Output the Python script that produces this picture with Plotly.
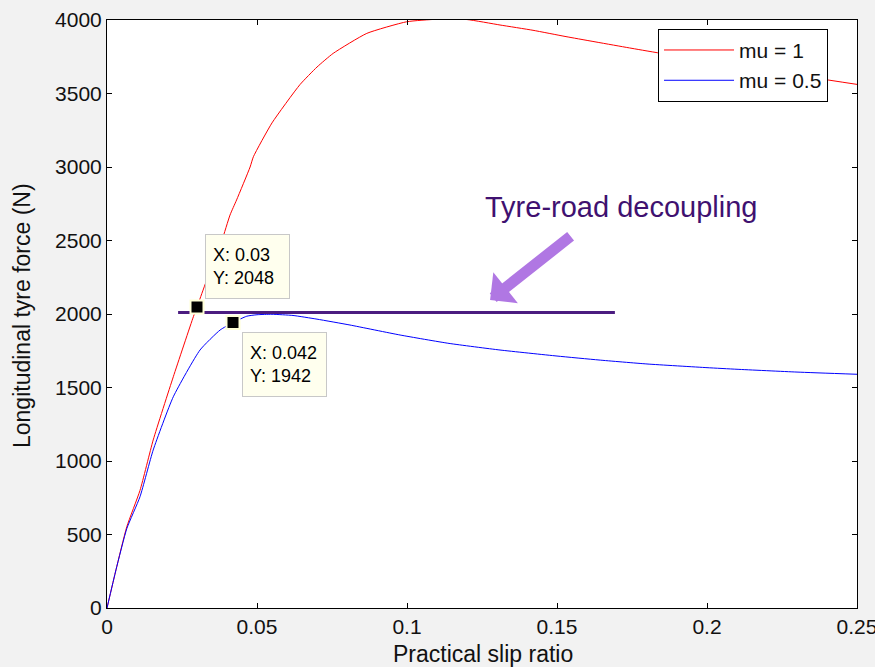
import plotly.graph_objects as go

# ---- data ----
slip_mu1 = [0, 0.003, 0.0066, 0.011, 0.0154, 0.0221, 0.0288, 0.03, 0.035, 0.0383,
            0.041, 0.0432, 0.0477, 0.0488, 0.055, 0.0643, 0.07, 0.0754, 0.0866,
            0.0999, 0.11, 0.12, 0.131, 0.142, 0.153, 0.175, 0.2, 0.225, 0.25]
force_mu1 = [0, 260, 553, 800, 1143, 1573, 1982, 2048, 2330, 2500,
             2673, 2776, 3000, 3070, 3300, 3560, 3680, 3773, 3909,
             3988, 4005, 4003, 3966, 3930, 3887, 3807, 3720, 3640, 3562]

slip_mu05 = [0, 0.003, 0.0066, 0.011, 0.0154, 0.0221, 0.031, 0.0377, 0.042, 0.0466,
             0.05, 0.055, 0.062, 0.07, 0.081, 0.0977, 0.114, 0.131, 0.15, 0.164,
             0.18, 0.2, 0.21, 0.23, 0.25]
force_mu05 = [0, 260, 540, 757, 1075, 1437, 1755, 1891, 1942, 1985,
              1995, 1998, 1990, 1965, 1925, 1857, 1800, 1755, 1714, 1687,
              1660, 1635, 1624, 1605, 1590]

tip_x = [0.03, 0.042]
tip_y = [2048, 1942]

decoupling_x = [0.0237, 0.1693]
decoupling_y = [2010, 2010]

arrow_tip = (0.1277, 2095)
label_pos = (0.1713, 2728)

x_ticks = [0, 0.05, 0.1, 0.15, 0.2, 0.25]
x_tick_labels = ["0", "0.05", "0.1", "0.15", "0.2", "0.25"]
y_ticks = [0, 500, 1000, 1500, 2000, 2500, 3000, 3500, 4000]
y_tick_labels = [str(v) for v in y_ticks]

FONT = "Liberation Sans, Arial, Helvetica, sans-serif"

fig = go.Figure()
fig.add_trace(go.Scatter(x=slip_mu1, y=force_mu1, mode="lines", name="mu = 1",
                         line=dict(color="#ff0000", width=1, shape="spline", smoothing=0.5)))
fig.add_trace(go.Scatter(x=slip_mu05, y=force_mu05, mode="lines", name="mu = 0.5",
                         line=dict(color="#0000ff", width=1, shape="spline", smoothing=0.5)))
fig.add_trace(go.Scatter(x=decoupling_x, y=decoupling_y, mode="lines", showlegend=False,
                         line=dict(color="#4b1c80", width=3)))
fig.add_trace(go.Scatter(x=tip_x, y=tip_y, mode="markers", showlegend=False,
                         marker=dict(symbol="square", size=13, color="black",
                                     line=dict(color="#ffffd8", width=2))))

annotations = []
# data tips
tip_style = dict(showarrow=False, xanchor="left", align="left", valign="middle",
                 bgcolor="#ffffee", bordercolor="#c8c8c8", borderwidth=1,
                 borderpad=7, width=69, height=49,
                 font=dict(family=FONT, size=18, color="black"))
annotations.append(dict(x=tip_x[0], y=tip_y[0], xref="x", yref="y",
                        text=f"X: {tip_x[0]}<br>Y: {tip_y[0]}",
                        yanchor="bottom", xshift=8, yshift=8, **tip_style))
annotations.append(dict(x=tip_x[1], y=tip_y[1], xref="x", yref="y",
                        text=f"X: {tip_x[1]}<br>Y: {tip_y[1]}",
                        yanchor="top", xshift=9, yshift=-9, **tip_style))
# arrow
annotations.append(dict(x=arrow_tip[0], y=arrow_tip[1], xref="x", yref="y",
                        text="", showarrow=True, ax=82, ay=-65,
                        arrowhead=1, arrowsize=0.6, arrowwidth=11,
                        arrowcolor="#b077e3", standoff=0))
# label
annotations.append(dict(x=label_pos[0], y=label_pos[1], xref="x", yref="y",
                        text="Tyre-road decoupling", showarrow=False,
                        xanchor="center", yanchor="middle",
                        font=dict(family=FONT, size=29, color="#3f1170")))
# axis titles
annotations.append(dict(x=-0.1133, y=0.4966, xref="paper", yref="paper",
                        text="Longitudinal tyre force (N)", showarrow=False,
                        textangle=-90, xanchor="center", yanchor="middle",
                        font=dict(family=FONT, size=23, color="#111111")))
annotations.append(dict(x=0.5007, y=-0.078, xref="paper", yref="paper",
                        text="Practical slip ratio", showarrow=False,
                        xanchor="center", yanchor="middle",
                        font=dict(family=FONT, size=23, color="#111111")))

axis_common = dict(showgrid=False, zeroline=False, showline=True, linecolor="black",
                   linewidth=1, mirror="ticks", ticks="inside", ticklen=5,
                   tickcolor="black", tickwidth=1, ticklabeloverflow="allow",
                   automargin=False,
                   tickfont=dict(family=FONT, size=21, color="#111111"))

fig.update_layout(
    width=875, height=667, autosize=False,
    margin=dict(l=107, r=18, t=20, b=59),
    paper_bgcolor="#f2f2f2", plot_bgcolor="white",
    xaxis=dict(range=[0, 0.25], tickvals=x_ticks, ticktext=x_tick_labels, **axis_common),
    yaxis=dict(range=[0, 4000], tickvals=y_ticks, ticktext=y_tick_labels, **axis_common),
    legend=dict(x=0.7347, y=0.985, xanchor="left", yanchor="top",
                bgcolor="white", bordercolor="black", borderwidth=1,
                font=dict(family=FONT, size=21, color="#111111"),
                itemwidth=70, tracegroupgap=4, entrywidth=118),
    annotations=annotations,
    showlegend=True,
)

fig.write_html("out.html")
